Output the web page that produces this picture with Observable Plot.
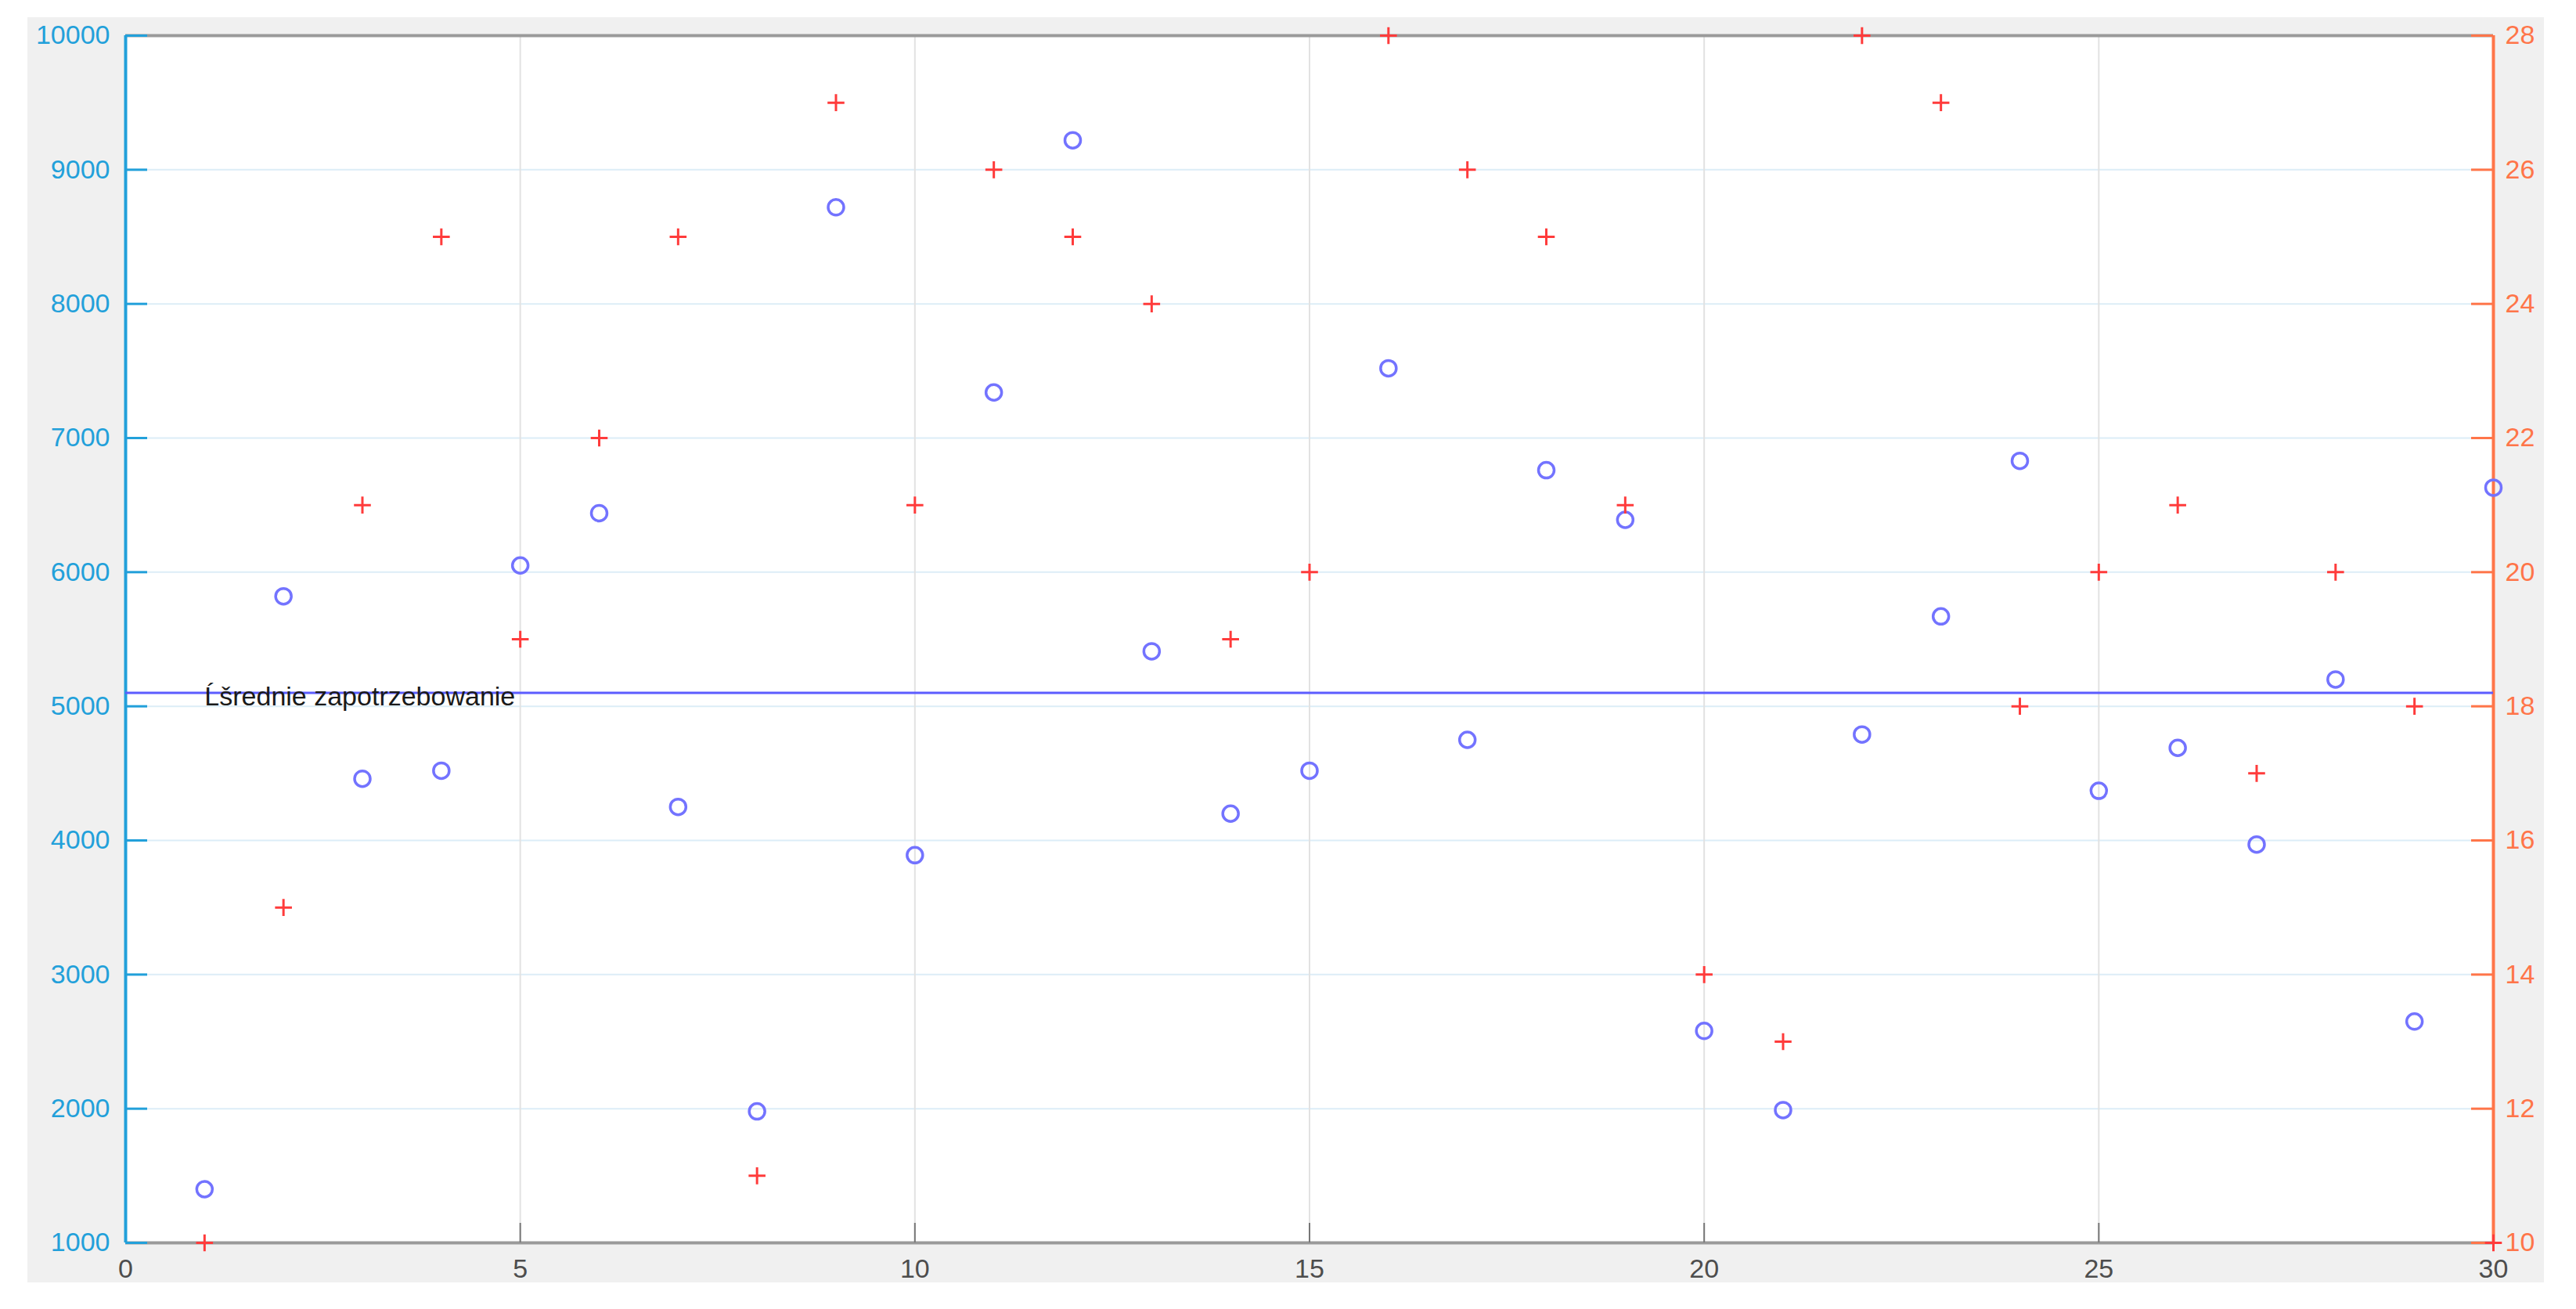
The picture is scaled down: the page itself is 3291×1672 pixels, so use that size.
<!DOCTYPE html>
<html>
<head>
<meta charset="utf-8">
<script src="https://cdn.jsdelivr.net/npm/d3@7"></script>
<script src="https://cdn.jsdelivr.net/npm/@observablehq/plot@0.6"></script>
<style>
  html, body { margin: 0; padding: 0; background: #ffffff; }
  #chart { position: absolute; left: 35px; top: 22px; }
</style>
</head>
<body>
<div id="chart"></div>
<script>
// ---- data ----
const days = d3.range(1, 31);
const demand = [1400, 5820, 4460, 4520, 6050, 6440, 4250, 1980, 8720, 3890,
                7340, 9220, 5410, 4200, 4520, 7520, 4750, 6760, 6390, 2580,
                1990, 4790, 5670, 6830, 4370, 4690, 3970, 5200, 2650, 6630];
const rightValues = [10, 15, 21, 25, 19, 22, 25, 11, 27, 21,
                     26, 25, 24, 19, 20, 28, 26, 25, 21, 14,
                     13, 28, 27, 18, 20, 21, 17, 20, 18, 10];
const meanDemand = 5100;
const meanLabel = "Ĺšrednie zapotrzebowanie";
const xTicks = [0, 5, 10, 15, 20, 25, 30];
const xGrid = [5, 10, 15, 20, 25];
const leftTicks = [1000, 2000, 3000, 4000, 5000, 6000, 7000, 8000, 9000, 10000];
const rightTicks = [10, 12, 14, 16, 18, 20, 22, 24, 26, 28];
const xDomain = [0, 30];
const leftDomain = [1000, 10000];
const rightDomain = [10, 28];

// ---- build ----
const W = 3215, H = 1616;
const mL = 125, mR = 65, mT = 23, mB = 51;
const plotW = W - mL - mR, plotH = H - mT - mB;

const toLeft = d3.scaleLinear(rightDomain, leftDomain);
const circles = days.map((d, i) => ({x: d, y: demand[i]}));
const crosses = days.map((d, i) => ({x: d, y: toLeft(rightValues[i])}));

const blue = "#22a0da";
const orange = "#ff7549";
const axisGray = "#9a9a9a";

const chart = Plot.plot({
  width: W, height: H,
  marginLeft: mL, marginRight: mR, marginTop: mT, marginBottom: mB,
  style: {background: "#f0f0f0", fontFamily: "'Liberation Sans', Arial, sans-serif", overflow: "visible"},
  x: {domain: xDomain, label: null},
  y: {domain: leftDomain, label: null},
  marks: [
    Plot.frame({fill: "white", stroke: null}),
    Plot.gridY(leftTicks.slice(1, -1), {stroke: "#dcedf7", strokeOpacity: 1, strokeWidth: 2}),
    Plot.gridX(xGrid, {stroke: "#e2e2e2", strokeOpacity: 1, strokeWidth: 2}),
    // box lines
    Plot.ruleY([leftDomain[1]], {stroke: axisGray, strokeWidth: 4}),
    Plot.ruleY([leftDomain[0]], {stroke: axisGray, strokeWidth: 4}),
    // inward ticks
    Plot.tickX(xTicks.slice(1, -1), {x: d => d, stroke: "#777", strokeWidth: 2, insetTop: plotH - 25}),
    Plot.tickY(leftTicks, {y: d => d, stroke: blue, strokeWidth: 3, insetRight: plotW - 28}),
    Plot.tickY(rightTicks, {y: d => toLeft(d), stroke: orange, strokeWidth: 3, insetLeft: plotW - 28}),
    Plot.ruleX([xDomain[0]], {stroke: blue, strokeWidth: 4}),
    Plot.ruleX([xDomain[1]], {stroke: orange, strokeWidth: 4}),
    // axis labels
    Plot.axisY(leftTicks, {anchor: "left", tickSize: 0, tickPadding: 20, fontSize: 34, color: blue, tickFormat: d => String(d)}),
    Plot.axisY(rightTicks.map(d => toLeft(d)), {anchor: "right", tickSize: 0, tickPadding: 15, fontSize: 34, color: orange,
      tickFormat: d => String(Math.round(toLeft.invert(d)))}),
    Plot.axisX(xTicks, {anchor: "bottom", tickSize: 0, tickPadding: 20, fontSize: 34, color: "#4d4d4d", tickFormat: d => String(d)}),
    // mean line
    Plot.ruleY([meanDemand], {stroke: "#5c5cff", strokeWidth: 3}),
    Plot.text([meanLabel], {x: 1, y: meanDemand, text: d => d, textAnchor: "start", lineAnchor: "middle", dx: 0, dy: 5, fontSize: 34, fill: "#1a1a1a"}),
    // data
    Plot.dot(circles, {x: "x", y: "y", r: 10, stroke: "#7373ff", strokeWidth: 3.5, fill: "none"}),
    Plot.dot(crosses, {x: "x", y: "y", symbol: "plus", r: 7, stroke: "#ff3b3b", strokeWidth: 3, fill: "none"})
  ]
});
document.getElementById("chart").appendChild(chart);
</script>
</body>
</html>
